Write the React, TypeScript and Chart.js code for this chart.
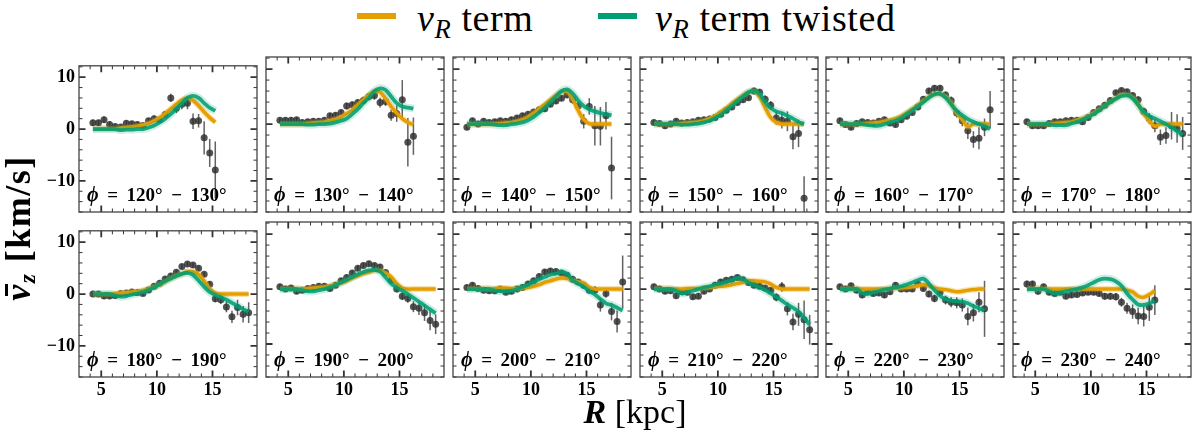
import React, { useEffect, useRef } from "react";
import Chart from "chart.js/auto";

// galactocentric radius of every bin centre [kpc]
const R_GRID = [
  4.25, 4.75, 5.25, 5.75, 6.25, 6.75, 7.25, 7.75, 8.25, 8.75, 9.25, 9.75, 10.25, 10.75, 11.25,
  11.75, 12.25, 12.75, 13.25, 13.75, 14.25, 14.75, 15.25, 15.75, 16.25, 16.75, 17.25, 17.75, 18.25,
];

const PHI_BINS = [
  "120° − 130°", "130° − 140°", "140° − 150°", "150° − 160°", "160° − 170°", "170° − 180°",
  "180° − 190°", "190° − 200°", "200° − 210°", "210° − 220°", "220° − 230°", "230° − 240°",
];

const X_TICKS = [5, 10, 15];
const Y_TICKS = [-10, 0, 10];

// measured mean vz, its error, and the two models, one set per phi bin
const VZ_120 = [1.2, 1.2, 1.8, 0.9, 0.5, 0.4, 1.1, 1.0, 0.9, 0.7, 1.6, 2.0, 1.8, 2.8, 6.0, 4.0, 4.8, 5.0, 1.5, 1.6, -1.7, -4.6, -7.9];
const ERR_120 = [0.6, 0.6, 0.6, 0.6, 0.5, 0.5, 0.5, 0.5, 0.5, 0.5, 0.5, 0.6, 0.6, 0.7, 0.8, 0.9, 1.0, 1.2, 1.5, 1.3, 3.2, 2.7, 5.5];
const TERM_120 = [0, 0, 0, 0, 0, 0.2, 0.3, 0.4, 0.6, 0.8, 1.1, 1.6, 2.2, 3.0, 3.9, 4.8, 5.6, 6.0, 5.5, 4.5, 3.3, 2.2, 1.3];
const TWIST_120 = [0, 0, 0, 0, 0, -0.2, -0.1, -0.1, 0, 0, 0.3, 0.7, 1.3, 2.0, 2.9, 3.9, 5.0, 6.0, 6.4, 6.0, 5.0, 4.1, 3.5];

const VZ_130 = [0.7, 0.7, 0.7, 0.8, 0.3, 0.4, 0.5, 0.5, 0.7, 1.5, 1.6, 2.1, 3.3, 3.5, 3.9, 4.3, 5.0, 5.2, 3.9, 4.1, 1.6, 1.9, 4.4, -3.3, -2.2];
const ERR_130 = [0.5, 0.5, 0.5, 0.5, 0.5, 0.5, 0.5, 0.5, 0.5, 0.5, 0.5, 0.5, 0.6, 0.6, 0.6, 0.7, 0.7, 0.8, 0.9, 0.8, 1.0, 1.5, 3.6, 4.4, 3.4];
const TERM_130 = [0, 0, 0, 0, 0, 0.1, 0.2, 0.3, 0.4, 0.6, 0.9, 1.3, 1.9, 2.6, 3.5, 4.4, 5.3, 6.0, 5.8, 4.6, 3.2, 2.0, 1.0, 0.3, -0.1];
const TWIST_130 = [0, 0, 0, 0, 0, -0.1, -0.1, 0, 0, 0.1, 0.3, 0.6, 1.0, 1.8, 2.7, 3.8, 4.8, 6.0, 6.5, 6.2, 5.0, 3.8, 3.2, 3.0, 2.8];

const VZ_140 = [-0.6, 0.6, 0.0, 0.5, 0.3, 0.4, 0.6, 0.5, 0.8, 1.1, 1.5, 1.8, 2.2, 2.6, 2.8, 3.6, 4.2, 4.7, 5.3, 4.4, 3.3, 0.5, 3.2, -0.3, -0.4, 1.5, -8.0];
const ERR_140 = [0.5, 0.5, 0.5, 0.5, 0.5, 0.5, 0.5, 0.5, 0.5, 0.5, 0.5, 0.5, 0.5, 0.5, 0.5, 0.5, 0.5, 0.5, 0.5, 0.7, 0.9, 1.3, 1.5, 3.6, 3.5, 2.5, 5.7];
const TERM_140 = [0, 0, 0, 0, 0, 0, 0.1, 0.2, 0.3, 0.5, 0.8, 1.3, 2.0, 2.8, 3.6, 4.4, 5.2, 5.9, 5.9, 4.6, 2.5, 0.8, 0.1, 0, 0, 0, 0];
const TWIST_140 = [0, 0, 0, 0, 0, -0.1, -0.2, -0.2, 0, 0.1, 0.3, 0.7, 1.3, 2.1, 3.0, 4.0, 5.0, 6.0, 6.3, 5.6, 4.3, 3.3, 2.7, 2.3, 2.0, 1.8, 1.6];

const VZ_150 = [0.3, 0.1, -0.3, 0.0, 0.5, 0.2, 0.3, 0.4, 0.7, 0.8, 0.9, 1.2, 1.8, 2.5, 3.1, 3.9, 4.4, 4.8, 6.0, 5.8, 4.5, 3.4, 1.1, 0.7, 0.5, -2.3, -1.7, -13.5];
const ERR_150 = [0.5, 0.5, 0.5, 0.5, 0.5, 0.5, 0.5, 0.5, 0.5, 0.5, 0.5, 0.5, 0.5, 0.5, 0.5, 0.5, 0.5, 0.5, 0.6, 0.6, 0.7, 0.8, 1.2, 1.5, 1.8, 2.3, 2.5, 4.0];
const TERM_150 = [0, 0, 0, 0, 0, 0.1, 0.2, 0.3, 0.4, 0.6, 1.0, 1.5, 2.2, 2.9, 3.7, 4.5, 5.2, 5.8, 6.0, 5.0, 3.0, 1.2, 0.3, 0, 0, 0, 0, 0];
const TWIST_150 = [0, 0, 0, 0, 0, -0.1, -0.1, 0, 0.1, 0.3, 0.6, 1.1, 1.7, 2.5, 3.3, 4.2, 5.0, 5.8, 6.0, 5.5, 4.0, 2.9, 2.3, 2.0, 1.5, 1.0, 0.4, 0.0];

const VZ_160 = [0.6, -0.1, -0.6, 0.1, 0.4, 0.3, 0.2, 0.5, 0.8, 0.2, -0.1, 0.8, 1.4, 2.1, 3.1, 4.5, 6.0, 6.5, 6.5, 5.3, 4.3, 2.0, 0.6, -1.2, -2.8, -2.6, -0.6, 2.6];
const ERR_160 = [0.5, 0.5, 0.5, 0.5, 0.5, 0.5, 0.5, 0.5, 0.5, 0.5, 0.5, 0.5, 0.5, 0.5, 0.5, 0.6, 0.6, 0.6, 0.6, 0.6, 0.7, 0.8, 1.0, 1.5, 1.5, 2.0, 1.6, 3.4];
const TERM_160 = [0, 0, 0, 0, 0, 0.1, 0.2, 0.3, 0.5, 0.7, 1.0, 1.4, 2.0, 2.7, 3.4, 4.2, 4.9, 5.5, 5.5, 5.0, 3.8, 2.0, 0.8, -0.5, 0, 0, 0, 0];
const TWIST_160 = [0, 0, 0, 0, 0, -0.2, -0.3, -0.3, 0, 0.3, 0.6, 1.1, 1.8, 2.5, 3.2, 4.0, 4.8, 5.4, 5.5, 4.8, 3.6, 2.4, 1.6, 0.9, 0.4, 0.0, -0.4, -0.9];

const VZ_170 = [0.4, -0.3, -0.3, -0.3, 0.1, 0.4, 0.4, 0.6, 0.7, 0.7, 0.4, 1.2, 2.1, 2.8, 3.4, 4.3, 5.7, 6.1, 5.9, 5.2, 4.4, 2.3, 1.0, -0.3, -2.4, -2.1, -0.3, -0.8, -1.7];
const ERR_170 = [0.5, 0.5, 0.5, 0.5, 0.5, 0.5, 0.5, 0.5, 0.5, 0.5, 0.5, 0.5, 0.5, 0.5, 0.5, 0.5, 0.5, 0.5, 0.5, 0.5, 0.6, 0.7, 1.0, 1.2, 1.4, 1.5, 2.5, 2.6, 3.0];
const TERM_170 = [0, 0, 0, 0, 0, 0.1, 0.2, 0.3, 0.4, 0.7, 1.0, 1.4, 2.0, 2.6, 3.3, 4.0, 4.7, 5.3, 5.3, 4.8, 3.6, 1.9, 0.6, -0.4, 0, 0, 0, 0, 0];
const TWIST_170 = [0, 0, 0, 0, 0, -0.2, -0.2, -0.2, 0.1, 0.4, 0.8, 1.3, 1.8, 2.5, 3.3, 4.0, 4.6, 5.1, 5.2, 4.7, 3.5, 2.2, 1.5, 1.0, 0.5, 0.0, -0.6, -1.3, -2.0];

const VZ_180 = [0.0, 0.0, -0.4, -0.4, -0.3, 0.1, 0.2, 0.4, 0.3, 0.1, 0.8, 1.5, 2.1, 2.9, 3.5, 4.2, 5.3, 5.8, 5.6, 5.0, 3.8, 1.9, -0.9, -1.1, -2.5, -4.4, -2.6, -3.9, -3.6];
const ERR_180 = [0.5, 0.5, 0.5, 0.5, 0.5, 0.5, 0.5, 0.5, 0.5, 0.5, 0.5, 0.5, 0.5, 0.5, 0.5, 0.5, 0.5, 0.5, 0.5, 0.5, 0.5, 0.6, 0.7, 0.8, 1.0, 1.2, 1.5, 1.6, 2.0];
const TERM_180 = [0, 0, 0, 0, 0.1, 0.2, 0.3, 0.4, 0.5, 0.7, 1.0, 1.4, 1.8, 2.4, 3.0, 3.5, 3.9, 4.3, 4.3, 3.8, 2.5, 1.0, 0.2, 0, 0, 0, 0, 0, 0];
const TWIST_180 = [0, 0, 0, 0, -0.3, -0.5, -0.4, -0.1, 0.1, 0.4, 0.8, 1.3, 1.9, 2.5, 3.0, 3.5, 3.9, 4.1, 3.7, 2.6, 1.4, 0.4, -0.2, -0.6, -1.1, -1.7, -2.3, -2.9, -3.4];

const VZ_190 = [0.4, 0.0, 0.2, -0.4, -0.2, 0.1, 0.3, 0.5, 0.5, 0.1, 0.7, 1.5, 2.1, 2.9, 3.8, 4.3, 4.6, 4.3, 4.0, 3.0, 1.6, 0.0, -1.3, -1.7, -3.2, -3.5, -4.3, -5.7, -6.4];
const ERR_190 = [0.5, 0.5, 0.5, 0.5, 0.5, 0.5, 0.5, 0.5, 0.5, 0.5, 0.5, 0.5, 0.5, 0.5, 0.5, 0.5, 0.5, 0.5, 0.5, 0.5, 0.5, 0.6, 0.7, 0.8, 1.0, 1.2, 1.5, 1.8, 1.8];
const TERM_190 = [0, 0, 0, 0, 0, 0.1, 0.2, 0.3, 0.4, 0.6, 0.8, 1.1, 1.5, 2.0, 2.4, 2.8, 3.1, 3.4, 3.3, 2.9, 2.2, 1.0, 0.2, 0, 0, 0, 0, 0, 0];
const TWIST_190 = [0, 0, 0, 0, -0.2, -0.4, -0.4, -0.2, 0.0, 0.3, 0.7, 1.2, 1.7, 2.2, 2.7, 3.1, 3.4, 3.5, 3.2, 2.1, 1.0, 0.3, -0.3, -0.9, -1.6, -2.3, -3.0, -3.7, -4.4];

const VZ_200 = [0.3, 0.7, 0.1, -0.2, -0.3, -0.3, 0.0, -0.6, -0.4, 0.0, 0.3, 0.9, 1.5, 2.3, 3.1, 3.3, 3.2, 2.9, 2.5, 1.8, 1.3, 0.7, -0.2, -0.2, -2.9, -0.8, -4.1, -5.9, 1.3];
const ERR_200 = [0.5, 0.5, 0.5, 0.5, 0.5, 0.5, 0.5, 0.5, 0.5, 0.5, 0.5, 0.5, 0.5, 0.5, 0.5, 0.5, 0.5, 0.5, 0.5, 0.5, 0.5, 0.5, 0.6, 0.7, 1.2, 0.8, 1.6, 2.0, 4.8];
const TERM_200 = [0, 0, 0, 0, 0, 0.1, 0.2, 0.2, 0.1, 0.1, 0.2, 0.3, 0.5, 0.8, 1.2, 1.5, 1.8, 2.0, 1.9, 1.6, 1.3, 1.1, 0.3, 0, 0, 0, 0, 0, 0];
const TWIST_200 = [0, 0, 0, 0, 0, -0.3, -0.4, -0.4, -0.3, 0.0, 0.4, 0.8, 1.3, 1.8, 2.2, 2.6, 2.8, 3.1, 2.8, 1.6, 1.0, 0.4, -0.4, -1.0, -1.8, -2.6, -2.9, -3.4, -3.9];

const VZ_210 = [0.4, 0.0, -0.4, -0.3, -1.2, -0.5, -0.6, -1.4, -1.3, -0.4, 0.0, 0.7, 1.3, 1.6, 1.8, 2.1, 1.7, 1.2, 0.7, 0.5, 0.2, -0.2, -1.5, 0.4, -3.6, -6.0, -4.6, -5.6, -7.4];
const ERR_210 = [0.5, 0.5, 0.5, 0.5, 0.5, 0.5, 0.5, 0.5, 0.5, 0.5, 0.5, 0.5, 0.5, 0.5, 0.5, 0.5, 0.5, 0.5, 0.5, 0.5, 0.5, 0.5, 0.7, 0.9, 1.2, 1.5, 2.1, 3.5, 2.7];
const TERM_210 = [0, 0, 0, 0, 0, 0, 0.1, 0.1, 0.1, 0.2, 0.3, 0.4, 0.5, 0.6, 0.8, 1.0, 1.2, 1.5, 1.5, 1.4, 1.3, 0.9, 0.3, 0, 0, 0, 0, 0, 0];
const TWIST_210 = [0, 0, 0, 0, -0.3, -0.8, -0.6, -0.3, 0.0, 0.3, 0.5, 0.8, 1.0, 1.3, 1.6, 2.0, 1.8, 1.2, 0.7, 0.3, -0.2, -0.8, -1.4, -2.1, -2.8, -3.4, -4.1, -5.2, -6.5];

const VZ_220 = [0.4, 0.0, 0.6, -0.2, -1.1, -0.4, -0.8, -0.7, -1.1, -0.5, 0.7, 0.0, 0.0, 0.0, 0.9, 0.1, -0.9, -1.7, -0.6, -2.0, -2.4, -2.5, -2.9, -5.0, -4.3, -2.4, -3.6];
const ERR_220 = [0.5, 0.5, 0.5, 0.5, 0.5, 0.5, 0.5, 0.5, 0.5, 0.5, 0.5, 0.5, 0.5, 0.5, 0.5, 0.5, 0.6, 0.7, 0.7, 0.8, 0.9, 1.0, 1.2, 1.6, 1.6, 1.8, 5.1];
const TERM_220 = [0, 0, 0, 0, 0, 0, 0, 0, 0, 0.1, 0.2, 0.2, 0.3, 0.4, 0.6, 0.8, 0.6, 0.2, 0.0, -0.1, -0.3, -0.5, -0.4, -0.2, -0.1, 0, 0];
const TWIST_220 = [0, 0, 0, 0, -0.7, -0.9, -0.6, -0.4, -0.1, 0.1, 0.3, 0.5, 0.8, 1.2, 1.6, 1.9, 1.0, -0.2, -1.2, -1.8, -2.1, -2.2, -2.3, -2.6, -3.1, -3.5, -3.9];

const VZ_230 = [0.9, 0.9, -0.4, 0.4, -0.6, -0.8, -0.6, -1.3, -1.1, -1.0, -0.7, -0.6, -0.6, -0.8, -1.3, -1.3, -1.4, -2.4, -3.5, -4.1, -4.9, -5.0, -3.3, -2.0];
const ERR_230 = [0.6, 0.6, 0.6, 0.5, 0.5, 0.5, 0.5, 0.5, 0.5, 0.5, 0.5, 0.5, 0.5, 0.5, 0.6, 0.6, 0.7, 0.8, 1.0, 1.3, 1.5, 1.8, 2.5, 2.7];
const TERM_230 = [0, 0, 0, 0, 0, 0, 0, 0, 0, 0, 0, 0, 0, 0, 0, 0, 0, 0, -0.2, -0.5, -1.3, -1.5, -1.0, -0.3];
const TWIST_230 = [0, 0, 0, 0, -0.4, -0.8, -0.7, -0.4, -0.2, 0.0, 0.3, 0.7, 1.2, 1.7, 1.9, 1.8, 1.4, 0.6, -0.8, -1.9, -2.8, -2.9, -2.6, -2.1];

const PANELS = [
  { vz: VZ_120, err: ERR_120, term: TERM_120, twist: TWIST_120 },
  { vz: VZ_130, err: ERR_130, term: TERM_130, twist: TWIST_130 },
  { vz: VZ_140, err: ERR_140, term: TERM_140, twist: TWIST_140 },
  { vz: VZ_150, err: ERR_150, term: TERM_150, twist: TWIST_150 },
  { vz: VZ_160, err: ERR_160, term: TERM_160, twist: TWIST_160 },
  { vz: VZ_170, err: ERR_170, term: TERM_170, twist: TWIST_170 },
  { vz: VZ_180, err: ERR_180, term: TERM_180, twist: TWIST_180 },
  { vz: VZ_190, err: ERR_190, term: TERM_190, twist: TWIST_190 },
  { vz: VZ_200, err: ERR_200, term: TERM_200, twist: TWIST_200 },
  { vz: VZ_210, err: ERR_210, term: TERM_210, twist: TWIST_210 },
  { vz: VZ_220, err: ERR_220, term: TERM_220, twist: TWIST_220 },
  { vz: VZ_230, err: ERR_230, term: TERM_230, twist: TWIST_230 },
];

const ORANGE = "#E69F00";
const GREEN = "#009E73";
const SERIF = "'Liberation Serif', Tinos, 'Times New Roman', Times, 'DejaVu Serif', 'Noto Serif', FreeSerif, serif";

// panel geometry in page pixels
const COL_LEFT = [79, 266, 453, 640, 826, 1013];
const ROW_TOP = [57, 222];
const PW = 178;
const PH = 155;
const PAD_L = 45;
const PAD_R = 6;
const PAD_T = 6;
const PAD_B = 30;

const toPts = (vals: number[]) => vals.map((v, i) => ({ x: R_GRID[i], y: v }));

const Panel = ({ idx }: { idx: number }) => {
  const canvasRef = useRef<HTMLCanvasElement | null>(null);
  const col = idx % 6;
  const row = Math.floor(idx / 6);
  const p = PANELS[idx];

  useEffect(() => {
    const ctx = canvasRef.current?.getContext("2d") as CanvasRenderingContext2D;
    if (!ctx) return;

    const decor = {
      id: "decor",
      beforeDatasetsDraw(chart: any) {
        const { ctx: c, chartArea: a, scales } = chart;
        c.save();
        c.beginPath();
        c.rect(a.left, a.top, a.right - a.left, a.bottom - a.top);
        c.clip();
        c.strokeStyle = "rgba(70,70,70,0.85)";
        c.lineWidth = 1.5;
        p.vz.forEach((v, i) => {
          const px = scales.x.getPixelForValue(R_GRID[i]);
          c.beginPath();
          c.moveTo(px, scales.y.getPixelForValue(v - p.err[i]));
          c.lineTo(px, scales.y.getPixelForValue(v + p.err[i]));
          c.stroke();
        });
        c.restore();
      },
      afterDraw(chart: any) {
        const { ctx: c, chartArea: a, scales } = chart;
        c.save();
        c.strokeStyle = "#333";
        // inward ticks on all four sides
        const tick = (len: number, w: number, xs: number[], ys: number[]) => {
          c.lineWidth = w;
          xs.forEach((v) => {
            const px = scales.x.getPixelForValue(v);
            c.beginPath();
            c.moveTo(px, a.bottom);
            c.lineTo(px, a.bottom - len);
            c.moveTo(px, a.top);
            c.lineTo(px, a.top + len);
            c.stroke();
          });
          ys.forEach((v) => {
            const py = scales.y.getPixelForValue(v);
            c.beginPath();
            c.moveTo(a.left, py);
            c.lineTo(a.left + len, py);
            c.moveTo(a.right, py);
            c.lineTo(a.right - len, py);
            c.stroke();
          });
        };
        const minorX: number[] = [];
        for (let v = 4; v <= 18; v++) if (!X_TICKS.includes(v)) minorX.push(v);
        const minorY: number[] = [];
        for (let v = -16; v <= 12; v += 2) if (!Y_TICKS.includes(v)) minorY.push(v);
        tick(3.5, 1, minorX, minorY);
        tick(6.5, 1.8, X_TICKS, Y_TICKS);
        c.lineWidth = 1.3;
        c.strokeStyle = "#444";
        c.strokeRect(a.left, a.top, a.right - a.left, a.bottom - a.top);

        // phi bin label
        const x0 = a.left + 8;
        const yb = a.bottom - 11;
        c.fillStyle = "#000";
        c.textBaseline = "alphabetic";
        c.font = `italic bold 20px ${SERIF}`;
        c.fillText("\u03D5", x0, yb);
        const w = c.measureText("\u03D5").width;
        c.font = `bold 19px ${SERIF}`;
        const [lo, hi] = PHI_BINS[idx].split(" − ");
        c.fillText(` \u2009=\u2009 ${lo} \u2009\u2212\u2009 ${hi}`, x0 + w, yb);
        c.restore();
      },
    };

    const chart = new Chart(ctx, {
      type: "scatter",
      data: {
        datasets: [
          {
            data: toPts(p.twist),
            showLine: true,
            borderColor: "rgba(0,158,115,0.88)",
            borderWidth: 3.8,
            pointRadius: 0,
            tension: 0.35,
            order: 1,
          },
          {
            data: toPts(p.twist),
            showLine: true,
            borderColor: "rgba(0,158,115,0.18)",
            borderWidth: 8,
            pointRadius: 0,
            tension: 0.35,
            order: 2,
          },
          {
            data: toPts(p.term),
            showLine: true,
            borderColor: ORANGE,
            borderWidth: 3.5,
            pointRadius: 0,
            tension: 0.35,
            order: 3,
          },
          {
            data: toPts(p.term),
            showLine: true,
            borderColor: "rgba(230,159,0,0.3)",
            borderWidth: 6,
            pointRadius: 0,
            tension: 0.35,
            order: 4,
          },
          {
            data: toPts(p.vz),
            pointRadius: 3.5,
            pointBackgroundColor: "rgba(45,45,45,0.82)",
            pointBorderWidth: 0,
            order: 5,
          },
        ],
      },
      options: {
        animation: false,
        responsive: false,
        events: [],
        layout: { padding: { top: PAD_T, right: PAD_R, left: 0, bottom: 0 } },
        plugins: { legend: { display: false }, tooltip: { enabled: false } },
        scales: {
          x: {
            type: "linear",
            min: 3,
            max: 19,
            grid: { display: false, drawTicks: false },
            border: { display: false },
            afterBuildTicks: (s: any) => {
              s.ticks = X_TICKS.map((v) => ({ value: v }));
            },
            afterFit: (s: any) => {
              s.height = PAD_B;
            },
            ticks: {
              display: row === 1,
              padding: 3,
              color: "#000",
              maxRotation: 0,
              autoSkip: false,
              font: { family: SERIF, size: 18, weight: "bold" },
            },
          },
          y: {
            type: "linear",
            min: -16,
            max: 12.2,
            grid: { display: false, drawTicks: false },
            border: { display: false },
            afterBuildTicks: (s: any) => {
              s.ticks = Y_TICKS.map((v) => ({ value: v }));
            },
            afterFit: (s: any) => {
              s.width = PAD_L;
            },
            ticks: {
              display: col === 0,
              padding: 4,
              color: "#000",
              font: { family: SERIF, size: 18, weight: "bold" },
              callback: (v: any) => (v < 0 ? "\u2212" + Math.abs(v) : String(v)),
            },
          },
        },
      },
      plugins: [decor],
    });

    return () => {
      chart.destroy();
    };
  }, []);

  return (
    <canvas
      ref={canvasRef}
      width={PW + PAD_L + PAD_R}
      height={PH + PAD_T + PAD_B}
      style={{
        position: "absolute",
        left: COL_LEFT[col] - PAD_L,
        top: ROW_TOP[row] - PAD_T,
        width: PW + PAD_L + PAD_R,
        height: PH + PAD_T + PAD_B,
      }}
    />
  );
};

const legendText = (twisted: boolean) => (
  <span>
    <i>v</i>
    <sub style={{ fontSize: "0.7em", fontStyle: "italic", verticalAlign: "-0.25em" }}>R</sub> term
    {twisted ? " twisted" : ""}
  </span>
);

const App = () => {
  return (
    <div
      style={{
        position: "absolute",
        left: 0,
        top: 0,
        width: 1200,
        height: 436,
        background: "#fff",
        overflow: "hidden",
        fontFamily: SERIF,
      }}
    >
      {/* legend */}
      <div style={{ position: "absolute", left: 357, top: 12.5, width: 39, height: 6.5, background: ORANGE }} />
      <div style={{ position: "absolute", left: 417, top: 0, fontSize: 38, lineHeight: "36px", whiteSpace: "nowrap", letterSpacing: 0.6 }}>
        {legendText(false)}
      </div>
      <div style={{ position: "absolute", left: 598, top: 12.5, width: 39, height: 6.5, background: GREEN }} />
      <div style={{ position: "absolute", left: 655, top: 0, fontSize: 38, lineHeight: "36px", whiteSpace: "nowrap", letterSpacing: 0.6 }}>
        {legendText(true)}
      </div>

      {PANELS.map((_, i) => (
        <Panel key={i} idx={i} />
      ))}

      {/* y axis title */}
      <div
        style={{
          position: "absolute",
          left: 18 - 150,
          top: 228 - 20,
          width: 300,
          height: 40,
          lineHeight: "40px",
          textAlign: "center",
          transform: "rotate(-90deg)",
          fontSize: 36,
          fontWeight: "bold",
          letterSpacing: 1.5,
          whiteSpace: "nowrap",
        }}
      >
        <span style={{ position: "relative", display: "inline-block" }}>
          <i>v</i>
          <span
            style={{
              position: "absolute",
              left: "0.14em",
              right: "0.02em",
              top: 7,
              height: 2.5,
              background: "#000",
            }}
          />
        </span>
        <sub style={{ fontSize: "0.65em", verticalAlign: "-0.2em" }}>
          <i>z</i>
        </sub>{" "}
        [km/s]
      </div>

      {/* x axis title */}
      <div
        style={{
          position: "absolute",
          left: 535,
          top: 394,
          width: 200,
          textAlign: "center",
          fontSize: 34,
          lineHeight: "36px",
          whiteSpace: "nowrap",
        }}
      >
        <b>
          <i>R</i>
        </b>{" "}
        [kpc]
      </div>
    </div>
  );
};

export default App;
